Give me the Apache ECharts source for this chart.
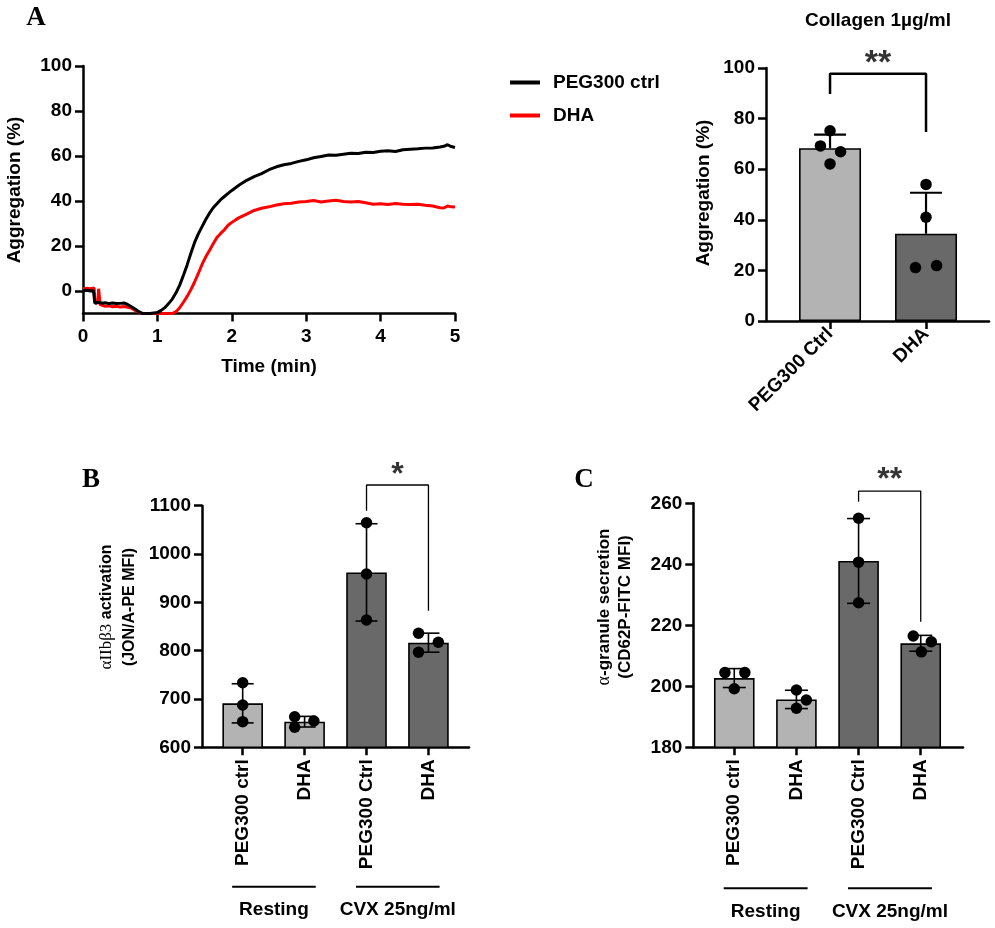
<!DOCTYPE html>
<html><head><meta charset="utf-8">
<script src="https://cdn.jsdelivr.net/npm/echarts@6/dist/echarts.min.js"></script>
<style>html,body{margin:0;padding:0;background:#fff}#c{width:995px;height:928px}</style>
</head><body><div id="c"></div>
<script>
// ---------- Panel A: aggregation traces ----------
const timeCtrl = [0,0.05,0.1,0.14,0.16,0.18,0.2,0.25,0.3,0.35,0.4,0.45,0.5,0.55,0.6,0.65,0.7,0.75,0.8,0.85,0.9,0.95,1.0,1.05,1.1,1.15,1.2,1.25,1.3,1.35,1.4,1.45,1.5,1.55,1.6,1.65,1.7,1.75,1.8,1.85,1.9,1.95,2.0,2.1,2.2,2.3,2.4,2.5,2.6,2.7,2.8,2.9,3.0,3.1,3.2,3.3,3.4,3.5,3.6,3.7,3.8,3.9,4.0,4.1,4.2,4.3,4.4,4.5,4.6,4.7,4.8,4.85,4.9,4.95,5.0];
const aggCtrl = [0,0.3,0,0.2,-5.5,-6,-5,-5.4,-5.2,-5.6,-5.3,-5.6,-5.5,-5.3,-6,-7,-8,-9.2,-10,-10,-10,-9.8,-9.6,-8.6,-7.4,-5.6,-3.6,-0.8,2.6,7,11.6,16.8,21.6,25.4,28.6,31.8,34.6,37,38.8,40.6,42,43.4,44.7,47.1,49.2,50.8,52.2,53.9,55.2,56.1,56.7,57.6,58.3,59.2,59.8,60.4,60.3,60.8,61.2,61.1,61.7,61.6,62.1,62.3,62.0,62.8,63.0,63.2,63.5,63.6,64.0,64.3,65.0,64.2,63.8];
const timeDHA = [0,0.05,0.1,0.15,0.16,0.19,0.2,0.21,0.22,0.23,0.25,0.3,0.35,0.4,0.45,0.5,0.55,0.6,0.65,0.7,0.75,0.8,0.9,1.0,1.1,1.2,1.25,1.3,1.35,1.4,1.45,1.5,1.55,1.6,1.65,1.7,1.75,1.8,1.85,1.9,1.95,2.0,2.05,2.1,2.2,2.3,2.4,2.5,2.6,2.7,2.8,2.9,3.0,3.1,3.2,3.3,3.4,3.5,3.6,3.7,3.8,3.9,4.0,4.1,4.2,4.3,4.4,4.5,4.6,4.7,4.8,4.85,4.9,4.95,5.0];
const aggDHA = [1,1.2,1,1.3,-5,-5.5,-4,1,1.2,-6,-6.5,-6.8,-6.6,-7,-6.8,-7.1,-6.9,-7.2,-7.6,-8.6,-9.4,-10,-10,-10,-10,-10,-9.2,-7.4,-5,-2.4,0.6,4,7.8,11.8,15.2,18,21,23.8,25.6,27.2,29.2,30.5,31.6,32.6,34.2,35.8,36.8,37.4,38.2,38.8,39.0,39.6,39.8,40.2,39.6,40.0,40.3,39.8,39.6,39.8,39.2,38.6,38.8,38.4,38.9,38.6,38.4,38.6,38.1,37.8,37.0,36.9,37.8,37.4,37.3];
const aggTicks = [0,20,40,60,80,100];

// ---------- Panel A: collagen bars ----------
const catsA = ['PEG300 Ctrl','DHA'];
const meanA = [68.3, 34.5];
const sdA = [5.4, 16.2];
const ptsA = [[75.2,69.2,66.9,62.1],[54.0,41.0,21.1,21.9]];
const jitA = [[0,-0.10,0.11,0],[0,0,-0.11,0.11]];
const sigA = {from:0, to:1, legL:89.7, legR:74.7, top:97.7, star:101.6, text:'**'};

// ---------- Panel B ----------
const catsB = ['PEG300 ctrl','DHA','PEG300 Ctrl','DHA'];
const meanB = [691, 653, 962, 816.5];
const sdB = [40.5, 11, 100.7, 19.7];
const ptsB = [[733.7,687.5,653],[663.3,654.4,641.4],[1064.8,958.6,863.4],[836,817.3,796.6]];
const jitB = [[0,0,0],[-0.16,0.15,-0.16],[0,0,0],[-0.16,0.16,-0.16]];
const sigB = {from:2, to:3, legL:1089.6, legR:882.7, top:1142.8, star:1163.5, text:'*'};

// ---------- Panel C ----------
const catsC = ['PEG300 ctrl','DHA','PEG300 Ctrl','DHA'];
const meanC = [202.7, 195.7, 241.1, 214.1];
const sdC = [3.1, 3.0, 13.9, 2.6];
const ptsC = [[204.5,204.5,199.2],[198.8,195.5,192.8],[255.1,240.7,227.4],[216.5,214.6,211.3]];
const jitC = [[-0.15,0.17,0],[0,0.16,0],[0,0,0],[-0.12,0.17,0.01]];
const sigC = {from:2, to:3, legL:260.5, legR:221.2, top:264.0, star:267.6, text:'**'};

const groups = ['Resting','CVX 25ng/ml'];
const groupSpan = [[-0.17,1.18],[1.83,3.18]];

const LIGHT = '#b3b3b3', DARK = '#696969';
const barColorsA = [LIGHT, DARK];
const barColorsBC = [LIGHT, LIGHT, DARK, DARK];

const SANS = "'Liberation Sans', Arial, Helvetica, sans-serif";
const SERIF = "'Liberation Serif', 'Times New Roman', serif";
const plain = v => String(v);

function axisStyle(extra){
  return Object.assign({
    axisLine:{show:true,onZero:false,lineStyle:{color:'#000',width:2.5}},
    axisTick:{show:true,length:8,lineStyle:{color:'#000',width:2.5}},
    axisLabel:{color:'#000',fontFamily:SANS,fontWeight:'bold',fontSize:19,margin:11,formatter:plain},
    splitLine:{show:false}
  }, extra);
}
function catX(gridIndex, min, max, cats, rotate, margin){
  const idx = cats.map((_,i)=>i);
  return axisStyle({type:'value', gridIndex, min, max,
    axisTick:{show:true,length:8,customValues:idx,lineStyle:{color:'#000',width:2.5}},
    axisLabel:{color:'#000',fontFamily:SANS,fontWeight:'bold',fontSize:19,rotate,margin,
      customValues:idx, formatter:v=>cats[Math.round(v)]}});
}

function barSeries(ax, cats, means, colors, width){
  return {type:'bar', xAxisIndex:ax, yAxisIndex:ax, barWidth:width, z:2,
    data: means.map((m,i)=>({value:[i,m], itemStyle:{color:colors[i]}})),
    itemStyle:{borderColor:'#000',borderWidth:1.6}};
}
function errSeries(ax, means, sds, capW, upOnly, lw){
  return {type:'custom', xAxisIndex:ax, yAxisIndex:ax, z:3, clip:false,
    data: means.map((m,i)=>[i,m,sds[i]]),
    renderItem:(params, api)=>{
      const x=api.value(0), m=api.value(1), s=api.value(2);
      const t=api.coord([x,m+s]), b=api.coord([x, upOnly? m : m-s]);
      const st={stroke:'#000',lineWidth:lw};
      const ch=[{type:'line',shape:{x1:t[0],y1:t[1],x2:b[0],y2:b[1]},style:st},
                {type:'line',shape:{x1:t[0]-capW/2,y1:t[1],x2:t[0]+capW/2,y2:t[1]},style:st}];
      if(!upOnly) ch.push({type:'line',shape:{x1:b[0]-capW/2,y1:b[1],x2:b[0]+capW/2,y2:b[1]},style:st});
      return {type:'group',children:ch};
    }};
}
function ptSeries(ax, pts, jit){
  const data=[];
  pts.forEach((arr,i)=>arr.forEach((v,j)=>data.push([i+jit[i][j], v])));
  return {type:'scatter', xAxisIndex:ax, yAxisIndex:ax, z:4, symbolSize:11.5,
    itemStyle:{color:'#000',opacity:1}, data, clip:false};
}
function sigSeries(ax, s, lw, fs){
  return [{type:'line', xAxisIndex:ax, yAxisIndex:ax, z:5, clip:false, symbol:'none',
    lineStyle:{color:'#000',width:lw}, silent:true,
    data:[[s.from,s.legL],[s.from,s.top],[s.to,s.top],[s.to,s.legR]]},
    {type:'scatter', xAxisIndex:ax, yAxisIndex:ax, z:5, clip:false, symbolSize:1,
     itemStyle:{color:'transparent'}, silent:true,
     label:{show:true,position:'inside',formatter:s.text,color:'#000',fontFamily:SANS,fontWeight:'bold',fontSize:fs},
     data:[[(s.from+s.to)/2, s.star]]}];
}

const chart = echarts.init(document.getElementById('c'), null, {renderer:'canvas'});

const option = {
  animation:false,
  backgroundColor:'#fff',
  grid:[
    {left:83, top:66, width:372, height:247.5, outerBoundsMode:'none'},
    {left:766, top:68, width:223, height:253, outerBoundsMode:'none'},
    {left:202, top:505.7, width:267, height:241.6, outerBoundsMode:'none'},
    {left:693.3, top:503.3, width:269.7, height:244, outerBoundsMode:'none'}
  ],
  legend:{data:['PEG300 ctrl','DHA'], left:510, top:73, orient:'vertical', icon:'rect',
    itemWidth:30, itemHeight:4, itemGap:14, padding:0,
    textStyle:{color:'#000',fontFamily:SANS,fontWeight:'bold',fontSize:19,padding:[0,0,0,8]}},
  xAxis:[
    axisStyle({type:'value', gridIndex:0, min:0, max:5, interval:1,
      axisLabel:{color:'#000',fontFamily:SANS,fontWeight:'bold',fontSize:19,margin:14,formatter:plain}}),
    catX(1, -0.667, 1.656, catsA, 45, 10),
    catX(2, -0.657, 3.655, catsB, 90, 12),
    catX(3, -0.659, 3.68, catsC, 90, 12)
  ],
  yAxis:[
    axisStyle({type:'value', gridIndex:0, min:-10, max:100,
      axisTick:{show:true,length:8,customValues:aggTicks,lineStyle:{color:'#000',width:2.5}},
      axisLabel:{color:'#000',fontFamily:SANS,fontWeight:'bold',fontSize:19,margin:11,customValues:aggTicks,formatter:plain}}),
    axisStyle({type:'value', gridIndex:1, min:0, max:100, interval:20}),
    axisStyle({type:'value', gridIndex:2, min:600, max:1100, interval:100}),
    axisStyle({type:'value', gridIndex:3, min:180, max:260, interval:20})
  ],
  series:[
    {name:'DHA', type:'line', xAxisIndex:0, yAxisIndex:0, showSymbol:false, symbol:'none',
      lineStyle:{color:'#ff0000',width:3}, itemStyle:{color:'#ff0000'},
      data: timeDHA.map((t,i)=>[t,aggDHA[i]])},
    {name:'PEG300 ctrl', type:'line', xAxisIndex:0, yAxisIndex:0, showSymbol:false, symbol:'none',
      lineStyle:{color:'#000',width:3}, itemStyle:{color:'#000'},
      data: timeCtrl.map((t,i)=>[t,aggCtrl[i]])},

    barSeries(1, catsA, meanA, barColorsA, 62),
    errSeries(1, meanA, sdA, 32, true, 2.2),
    ptSeries(1, ptsA, jitA),
    ...sigSeries(1, sigA, 2.5, 34),

    barSeries(2, catsB, meanB, barColorsBC, 40.6),
    errSeries(2, meanB, sdB, 22, false, 1.6),
    ptSeries(2, ptsB, jitB),
    ...sigSeries(2, sigB, 1.3, 32),

    barSeries(3, catsC, meanC, barColorsBC, 40.6),
    errSeries(3, meanC, sdC, 23, false, 1.6),
    ptSeries(3, ptsC, jitC),
    ...sigSeries(3, sigC, 1.3, 32)
  ]
};
chart.setOption(option);

// ---------- annotations ----------
const g = [];
function txt(x,y,text,font,rot){
  g.push({type:'text', x, y, rotation:rot||0, silent:true,
    style:Object.assign({text, fill:'#000', align:'center', verticalAlign:'middle'}, font)});
}
const bold = {fontFamily:SANS,fontWeight:'bold',fontSize:19};
txt(36,18,'A',{fontFamily:SERIF,fontWeight:'bold',fontSize:27});
txt(91,480,'B',{fontFamily:SERIF,fontWeight:'bold',fontSize:27});
txt(584,480,'C',{fontFamily:SERIF,fontWeight:'bold',fontSize:27});
txt(878,21,'Collagen 1µg/ml',bold);
txt(15,190,'Aggregation (%)',bold,Math.PI/2);
txt(704,193,'Aggregation (%)',bold,Math.PI/2);
txt(269,367,'Time (min)',bold);
g.push({type:'text', x:118, y:607, rotation:Math.PI/2, silent:true,
  style:{text:'{g|αIIbβ3}{b| activation}\n{b|(JON/A-PE MFI)}', align:'center', verticalAlign:'middle',
    rich:{g:{fontFamily:SERIF,fontSize:17,fill:'#000',lineHeight:23},
          b:{fontFamily:SANS,fontWeight:'bold',fontSize:16,fill:'#000',lineHeight:23}}}});
g.push({type:'text', x:615, y:607, rotation:Math.PI/2, silent:true,
  style:{text:'{g|α}{b|-granule secretion}\n{b|(CD62P-FITC MFI)}', align:'center', verticalAlign:'middle',
    rich:{g:{fontFamily:SERIF,fontSize:18,fill:'#000',lineHeight:21},
          b:{fontFamily:SANS,fontWeight:'bold',fontSize:17,fill:'#000',lineHeight:21}}}});

[[2,600,139.4],[3,180,141]].forEach(([gi,ymin,dy])=>{
  groups.forEach((name,k)=>{
    const a = chart.convertToPixel({xAxisIndex:gi,yAxisIndex:gi},[groupSpan[k][0],ymin]);
    const b = chart.convertToPixel({xAxisIndex:gi,yAxisIndex:gi},[groupSpan[k][1],ymin]);
    const y = a[1]+dy;
    g.push({type:'line', silent:true, shape:{x1:a[0],y1:y,x2:b[0],y2:y}, style:{stroke:'#000',lineWidth:2}});
    txt((a[0]+b[0])/2, y+23, name, bold);
  });
});
chart.setOption({graphic:g});
</script></body></html>
